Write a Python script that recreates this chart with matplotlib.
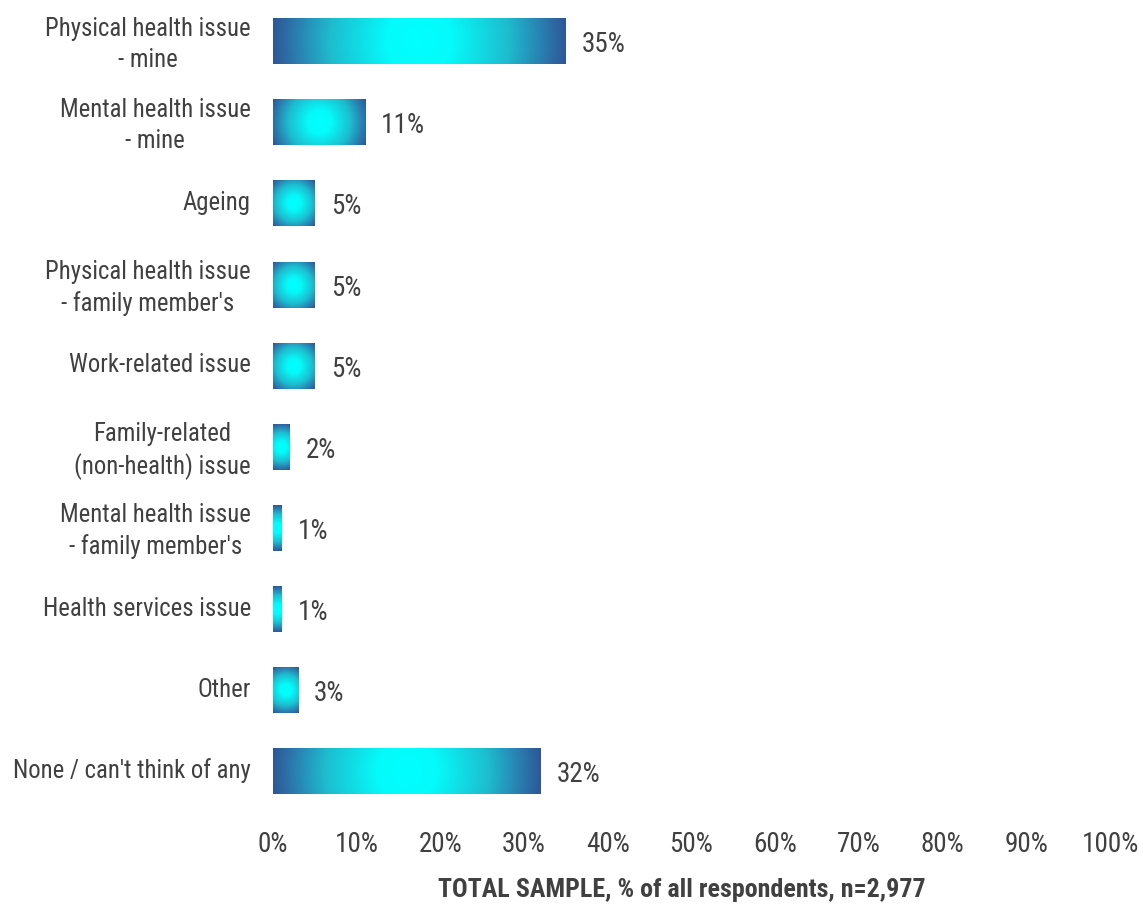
import numpy as np
import matplotlib
matplotlib.use("Agg")
import matplotlib.pyplot as plt
from matplotlib import font_manager
from matplotlib.colors import LinearSegmentedColormap
from matplotlib.transforms import ScaledTranslation

# prefer a condensed sans if one is installed
_available = {f.name for f in font_manager.fontManager.ttflist}
_pref = ['Liberation Sans Narrow', 'Arial Narrow', 'Roboto Condensed',
         'Open Sans Condensed', 'DejaVu Sans Condensed', 'Liberation Sans']
_family = [f for f in _pref if f in _available] + ['DejaVu Sans']
plt.rcParams['font.family'] = _family

categories = [
    "Physical health issue\n- mine",
    "Mental health issue\n- mine",
    "Ageing",
    "Physical health issue\n- family member's",
    "Work-related issue",
    "Family-related\n(non-health) issue",
    "Mental health issue\n- family member's",
    "Health services issue",
    "Other",
    "None / can't think of any",
]
values = [35, 11, 5, 5, 5, 2, 1, 1, 3, 32]
value_labels = [f"{v}%" for v in values]
xticks = [0, 10, 20, 30, 40, 50, 60, 70, 80, 90, 100]
xtick_labels = [f"{t}%" for t in xticks]
xlabel = "TOTAL SAMPLE, % of all respondents, n=2,977"

TEXT = "#404040"
cmap = LinearSegmentedColormap.from_list(
    "glow",
    [(0.0, "#00FFFF"), (0.22, "#04FBFB"), (0.6, "#1DBDCF"), (0.85, "#2A7AAE"), (1.0, "#2F5597")])

W, H = 1143, 907
fig = plt.figure(figsize=(W / 100, H / 100), dpi=100)
ax = fig.add_axes([273 / W, 1 - 812 / H, (1110 - 273) / W, 811 / H])
n = len(categories)
ax.set_xlim(0, 100)
ax.set_ylim(n - 0.5, -0.5)

bar_h = 0.56
px_x = ax.bbox.width / 100.0
px_y = ax.bbox.height / n

for i, v in enumerate(values):
    w_px = v * px_x
    h_px = bar_h * px_y
    nx = max(int(w_px * 2), 4)
    ny = max(int(h_px * 2), 4)
    xs = (np.linspace(0, 1, nx) - 0.5) * w_px
    ys = (np.linspace(0, 1, ny) - 0.5) * h_px
    X, Y = np.meshgrid(xs, ys)
    # radial fill from the centre, reaching the edge colour at the corners
    r = np.hypot(w_px / 2.0, h_px / 2.0)
    t = np.clip(np.hypot(X, Y) / r, 0, 1)
    ax.imshow(t, cmap=cmap, vmin=0, vmax=1, aspect='auto', interpolation='bilinear',
              extent=(0, v, i + bar_h / 2, i - bar_h / 2), zorder=2)
    ax.text(v + 16 / px_x, i + 0.04, value_labels[i], va='center', ha='left',
            fontsize=19.5, color=TEXT)

ax.set_xlim(0, 100)
ax.set_ylim(n - 0.5, -0.5)
ax.set_yticks(range(n))
ax.set_yticklabels(categories, fontsize=17.8, color=TEXT, multialignment='center',
                   linespacing=1.35)
ax.set_xticks(xticks)
ax.set_xticklabels(xtick_labels, fontsize=19.5, color=TEXT)
ax.tick_params(axis='y', length=0, pad=16)
ax.tick_params(axis='x', length=0, pad=14)
shift_up = ScaledTranslation(0, 3 / 100, fig.dpi_scale_trans)
for lbl in ax.get_yticklabels():
    lbl.set_transform(lbl.get_transform() + shift_up)
for s in ax.spines.values():
    s.set_visible(False)

fig.text(682 / W, 1 - 890 / H, xlabel, ha='center', va='center',
         fontsize=18.7, fontweight='bold', color=TEXT)

fig.savefig("out.png", dpi=100, facecolor='white')
